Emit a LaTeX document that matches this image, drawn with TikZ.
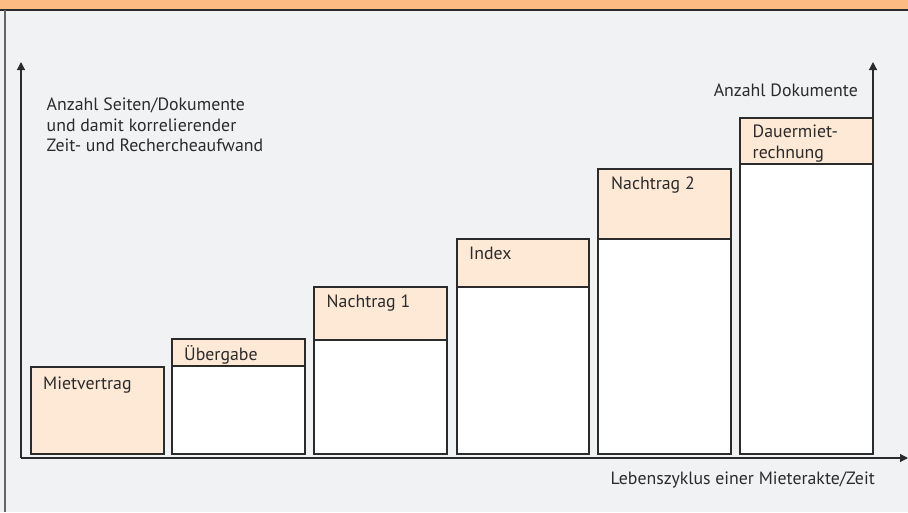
\documentclass[tikz,border=0pt]{standalone}
\usepackage{fontspec}
\setmainfont{PT Sans}
\usetikzlibrary{arrows.meta}
\definecolor{bg}{HTML}{F1F2F4}
\definecolor{head}{HTML}{FBBB83}
\definecolor{peach}{HTML}{FDE9D5}
\definecolor{ink}{HTML}{2B2B2B}
\definecolor{frame}{HTML}{666666}
\tikzset{
  x=1pt, y=-1pt,
  box/.style={draw=ink, line width=1.3pt},
  lbl/.style={anchor=base west, inner sep=0pt, font=\fontsize{17.8}{20.5}\selectfont, text=ink},
  axis/.style={draw=ink, line width=1.2pt, -{Triangle[length=8pt,width=8pt]}},
}
\begin{document}
\begin{tikzpicture}
\useasboundingbox (0,0) rectangle (908,512);
\fill[bg] (0,0) rectangle (908,512);
\fill[head] (0,0) rectangle (908,10);
\draw[ink, line width=1.5pt] (0,10) -- (908,10);
\draw[frame, line width=1.5pt] (5,10) -- (5,512);

\def\bot{454}
\draw[box, fill=peach] (31,367) rectangle (164,\bot);
\draw[box, fill=white] (172,339) rectangle (305,\bot);
\draw[box, fill=peach] (172,339) rectangle (305,366);
\draw[box, fill=white] (314,287) rectangle (447,\bot);
\draw[box, fill=peach] (314,287) rectangle (447,340);
\draw[box, fill=white] (457,239) rectangle (589,\bot);
\draw[box, fill=peach] (457,239) rectangle (589,287);
\draw[box, fill=white] (598,169) rectangle (731,\bot);
\draw[box, fill=peach] (598,169) rectangle (731,239);
\draw[box, fill=white] (740,118) rectangle (873,\bot);
\draw[box, fill=peach] (740,118) rectangle (873,164);

\node[lbl] (mv) at (43,389) {Mietvertrag};
\node[lbl] (ub) at (184,360) {Übergabe};
\node[lbl] (n1) at (326.5,307.5) {Nachtrag 1};
\node[lbl] (ix) at (469,259.3) {Index};
\node[lbl] (n2) at (611,189.3) {Nachtrag 2};
\node[lbl, align=left] (dm) at (752.5,158.3) {Dauermiet-\\rechnung};

\coordinate (o) at (21,458);
\coordinate (ytop) at (21,62);
\coordinate (xend) at (908,458);
\coordinate (rb) at (873,118);
\coordinate (rtop) at (873,62);
\draw[axis] (o) -- (ytop);
\draw[axis] (o) -- (xend);
\draw[axis] (rb) -- (rtop);

\node[lbl, align=left] (yl) at (46.5,151.7) {Anzahl Seiten/Dokumente\\und damit korrelierender\\Zeit- und Rechercheaufwand};
\node[lbl, anchor=base east] (rl) at (858,96) {Anzahl Dokumente};
\node[lbl, anchor=base east] (xl) at (875,484) {Lebenszyklus einer Mieterakte/Zeit};
\end{tikzpicture}
\end{document}
